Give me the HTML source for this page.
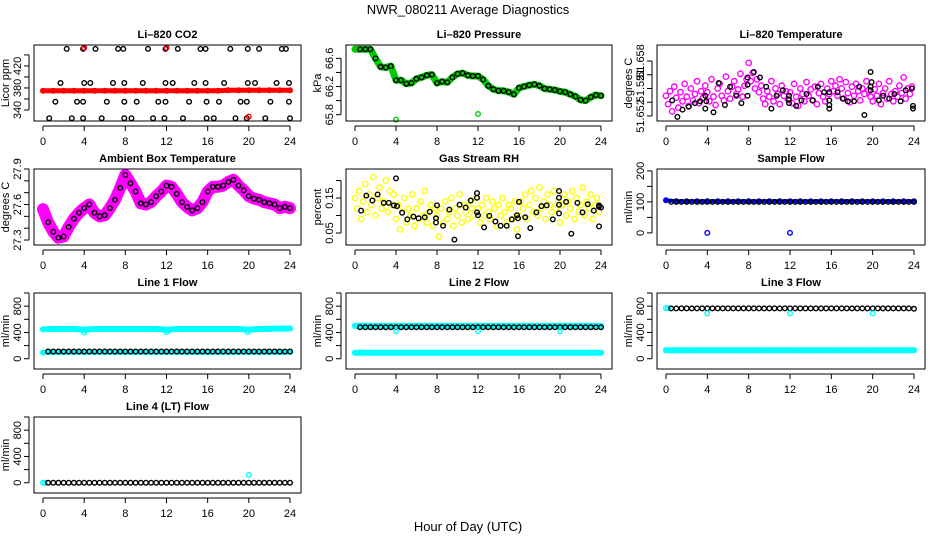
<!DOCTYPE html>
<html><head><meta charset="utf-8"><style>
html,body{margin:0;padding:0;background:#fff;}
svg{display:block;font-family:"Liberation Sans",Arial,sans-serif;}
</style></head><body>
<svg id="chart" width="936" height="540" viewBox="0 0 936 540" xmlns="http://www.w3.org/2000/svg">
<rect width="936" height="540" fill="#fff"/>
<text x="468" y="14" text-anchor="middle" font-size="13">NWR_080211  Average Diagnostics</text>
<text x="468" y="531" text-anchor="middle" font-size="13">Hour of Day (UTC)</text>
</svg>
<script>
// ---------- data ----------
const xTicks = [0,4,8,12,16,20,24];
// Li-820 CO2
const co2BlackHours = [2.3,3.9,5.1,7.3,7.8,10.2,11.9,13.1,15.3,15.8,18.2,19.9,21.0,23.2,23.6, 1.7,4.0,4.6,6.8,7.9,9.7,11.9,12.6,14.7,15.8,17.6,19.9,20.6,22.7,23.9, 1.2,3.3,3.9,6.2,7.9,9.1,11.2,11.9,14.2,15.9,17.1,19.2,19.8,22.1,23.9, 0.6,2.8,3.9,5.7,7.9,8.6,10.7,11.8,13.6,15.9,16.6,18.7,19.8,21.6,24.0];
const co2BlackValues = [451,451,451,451,451,451,451,451,451,451,451,451,451,451,451, 389,389,389,389,389,389,389,389,389,389,389,389,389,389,389, 355,355,355,355,355,355,355,355,355,355,355,355,355,355,355, 325,325,325,325,325,325,325,325,325,325,325,325,325,325,325];
const co2RedHours = [0,1,2,3,4,5,6,7,8,9,10,11,12,13,14,15,16,17,18,19,20,21,22,23,24];
const co2RedValues = [375,375,375,375,375,375,375,375,375,375,375,375,375,375,375,375,375,375,376,376,376,376,376,376,376];
const co2RedOutHours = [4.0,12.0,20.0];
const co2RedOutValues = [453,453,328];
// Li-820 Pressure
const halfHours = [0,0.5,1,1.5,2,2.5,3,3.5,4,4.5,5,5.5,6,6.5,7,7.5,8,8.5,9,9.5,10,10.5,11,11.5,12,12.5,13,13.5,14,14.5,15,15.5,16,16.5,17,17.5,18,18.5,19,19.5,20,20.5,21,21.5,22,22.5,23,23.5,24];
const pressValues = [66.73,66.73,66.73,66.73,66.6,66.48,66.47,66.49,66.29,66.29,66.24,66.25,66.31,66.33,66.36,66.37,66.25,66.27,66.26,66.33,66.38,66.39,66.36,66.35,66.35,66.30,66.21,66.16,66.14,66.14,66.12,66.09,66.18,66.20,66.22,66.23,66.21,66.17,66.16,66.15,66.13,66.12,66.09,66.06,66.01,66.00,66.05,66.08,66.07];
const pressOutHours = [4.0,12.0];
const pressOutValues = [65.73,65.81];
// Li-820 Temperature
const tempMagValues = [51.6542,51.6533,51.6547,51.6525,51.6552,51.6540,51.6529,51.6546,51.6536,51.6555,51.6541,51.6531,51.6550,51.6537,51.6544,51.6558,51.6534,51.6547,51.6540,51.6553,
51.6546,51.6536,51.6560,51.6541,51.6532,51.6550,51.6555,51.6542,51.6537,51.6563,51.6547,51.6539,51.6552,51.6558,51.6544,51.6549,51.6566,51.6541,51.6553,51.6560,
51.6578,51.6558,51.6567,51.6550,51.6560,51.6546,51.6553,51.6539,51.6533,51.6547,51.6541,51.6558,51.6536,51.6550,51.6544,51.6533,51.6553,51.6542,51.6547,51.6538,
51.6546,51.6534,51.6555,51.6541,51.6531,51.6550,51.6544,51.6536,51.6557,51.6542,51.6549,51.6537,51.6552,51.6533,51.6545,51.6555,51.6541,51.6536,51.6550,51.6544,
51.6558,51.6547,51.6553,51.6542,51.6560,51.6550,51.6539,51.6557,51.6545,51.6535,51.6552,51.6542,51.6555,51.6547,51.6537,51.6550,51.6544,51.6558,51.6548,51.6541,
51.6536,51.6549,51.6542,51.6555,51.6533,51.6545,51.6550,51.6539,51.6558,51.6544,51.6536,51.6547,51.6541,51.6553,51.6545,51.6562,51.6539,51.6550,51.6544,51.6552];
const tempBlackHours = [0.6,1.1,1.6,2.2,2.8,3.3,3.8,3.9,3.8,4.6,5.1,5.7,6.2,6.8,7.3,7.9,7.9,7.9,8.5,9.1,9.7,10.2,10.7,11.3,11.9,11.9,11.9,12.6,13.1,13.6,14.2,14.7,15.3,15.8,15.8,15.8,15.8,16.6,17.1,17.6,18.2,18.7,19.2,19.8,19.9,19.8,19.8,20.6,21.0,21.6,22.1,22.7,23.2,23.8,23.9,23.9];
const tempBlackValues = [51.6537,51.6519,51.6527,51.6530,51.6534,51.6536,51.6542,51.6536,51.6528,51.6524,51.6556,51.6532,51.6552,51.6542,51.6534,51.6562,51.6554,51.6542,51.6568,51.6562,51.6552,51.6528,51.6542,51.6548,51.6542,51.6538,51.6534,51.6531,51.6537,51.6544,51.6537,51.6552,51.6546,51.6546,51.6537,51.6532,51.6528,51.6546,51.6539,51.6536,51.6536,51.6552,51.6521,51.6568,51.6557,51.6552,51.6548,51.6537,51.6542,51.6539,51.6544,51.6536,51.6548,51.6550,51.6531,51.6528];
// Ambient Box Temperature
const ambValues = [27.56,27.45,27.37,27.32,27.33,27.41,27.48,27.53,27.57,27.60,27.53,27.50,27.51,27.57,27.64,27.74,27.85,27.78,27.71,27.61,27.60,27.62,27.67,27.71,27.76,27.75,27.69,27.62,27.58,27.55,27.57,27.62,27.71,27.75,27.75,27.76,27.79,27.81,27.76,27.72,27.67,27.65,27.64,27.62,27.61,27.60,27.57,27.58,27.57];
// Gas Stream RH
const rhYellowValues = [.15,.12,.17,.09,.14,.19,.11,.16,.13,.21,.10,.15,.18,.12,.14,.20,.11,.17,.13,.16,
.09,.13,.06,.11,.15,.08,.12,.10,.16,.07,.12,.09,.14,.10,.17,.08,.11,.13,.07,.12,
.10,.04,.12,.08,.14,.09,.11,.15,.07,.12,.10,.16,.08,.13,.11,.09,.14,.12,.10,.15,
.12,.08,.13,.10,.15,.11,.09,.14,.12,.07,.13,.10,.15,.11,.08,.13,.12,.09,.14,.06,
.10,.14,.12,.16,.09,.13,.17,.11,.15,.10,.18,.12,.14,.09,.16,.13,.11,.17,.12,.14,
.08,.13,.16,.10,.14,.12,.17,.09,.15,.11,.13,.18,.10,.14,.12,.16,.09,.13,.15,.11];
const rhBlackHours = [0.6,1.1,1.7,2.2,2.8,3.3,3.8,4.0,4.1,4.6,5.1,5.7,6.2,6.8,7.3,7.9,7.9,8.0,8.6,9.2,9.7,10.2,10.8,11.3,11.9,11.9,11.9,12.0,12.6,13.1,13.7,14.2,14.8,15.3,15.8,15.9,15.9,16.0,16.6,17.1,17.7,18.2,18.7,19.3,19.9,19.9,19.9,19.9,20.6,21.1,21.7,22.2,22.7,23.3,23.8,23.8,23.8,24.0];
const rhBlackValues = [.114,.157,.143,.160,.136,.136,.129,.206,.127,.108,.089,.097,.092,.095,.111,.092,.080,.129,.071,.117,.031,.131,.123,.143,.151,.164,.109,.101,.066,.099,.083,.071,.071,.089,.101,.092,.041,.139,.095,.064,.109,.127,.129,.089,.106,.151,.170,.131,.139,.048,.136,.109,.132,.114,.129,.125,.069,.123];
// Flows (hourly band values)
const hourly = [0,1,2,3,4,5,6,7,8,9,10,11,12,13,14,15,16,17,18,19,20,21,22,23,24];
const blackHalfHours = [0.5,1,1.5,2,2.5,3,3.5,4,4.5,5,5.5,6,6.5,7,7.5,8,8.5,9,9.5,10,10.5,11,11.5,12,12.5,13,13.5,14,14.5,15,15.5,16,16.5,17,17.5,18,18.5,19,19.5,20,20.5,21,21.5,22,22.5,23,23.5,24];
const sampleBlue = [105,102,102,102,102,102,102,102,102,102,102,102,102,102,102,102,102,102,102,102,102,102,102,102,102];
const sampleBlack = [100,100,100,100,100,100,100,100,100,100,100,100,100,100,100,100,100,100,100,100,100,100,100,100,100,100,100,100,100,100,100,100,100,100,100,100,100,100,100,100,100,100,100,100,100,100,100,100];
const sampleOutHours = [4.0,12.0];
const sampleOutValues = [0,0];
const l1CyanTop = [450,452,452,452,440,452,452,452,452,452,452,452,440,452,452,452,452,452,452,452,440,452,455,458,460];
const l1CyanLow = [95,100,100,100,100,100,100,100,100,100,100,100,100,100,100,100,100,100,100,100,100,100,100,100,100];
const l1Black = [110,110,110,110,110,110,110,110,110,110,110,110,110,110,110,110,110,110,110,110,110,110,110,110,110,110,110,110,110,110,110,110,110,110,110,110,110,110,110,110,110,110,110,110,110,110,110,110];
const l1DipHours = [4.0,12.0,19.9];
const l1DipValues = [400,405,405];
const l2CyanTop = [500,500,500,500,500,500,500,500,500,500,500,500,500,500,500,500,500,500,500,500,500,500,500,500,500];
const l2CyanLow = [90,90,90,90,90,90,90,90,90,90,90,90,90,90,90,90,90,90,90,90,90,90,90,90,90];
const l2Black = [480,480,480,480,480,480,480,480,480,480,480,480,480,480,480,480,480,480,480,480,480,480,480,480,480,480,480,480,480,480,480,480,480,480,480,480,480,480,480,480,480,480,480,480,480,480,480,480];
const l2DipHours = [4.0,12.0,20.0];
const l2DipValues = [420,420,420];
const l3CyanLow = [130,130,130,130,130,130,130,130,130,130,130,130,130,130,130,130,130,130,130,130,130,130,130,130,130];
const l3CyanTopHours = [0,0.2];
const l3CyanTopValues = [770,770];
const l3Black = [765,765,765,765,765,765,765,765,765,765,765,765,765,765,765,765,765,765,765,765,765,765,765,765,765,765,765,765,765,765,765,765,765,765,765,765,765,765,765,765,765,765,765,765,765,765,765,760];
const l3DipHours = [4.0,12.0,20.0];
const l3DipValues = [690,690,690];
const l4CyanHours = [0,0.2];
const l4CyanValues = [0,0];
const l4Black = [0,0,0,0,0,0,0,0,0,0,0,0,0,0,0,0,0,0,0,0,0,0,0,0,0,0,0,0,0,0,0,0,0,0,0,0,0,0,0,0,0,0,0,0,0,0,0,0];
const l4OutHours = [20.0];
const l4OutValues = [120];

// ---------- layout ----------
const svg = document.getElementById('chart');
const NS = 'http://www.w3.org/2000/svg';
const colL = [34,346,657], colR = [301,612,925];
const rowT = [45,169,293,417], PH = 76;
const hourSteps = (n, step) => { const a=[]; for(let i=0;i<n;i++) a.push(i*step); return a; };
const fifthHours = hourSteps(120, 0.2);

function mk(tag, attrs, parent){ const e=document.createElementNS(NS,tag); for(const k in attrs) e.setAttribute(k,attrs[k]); (parent||svg).appendChild(e); return e; }

const flowTicks = [0,200,400,600,800,1000];
const flowLabels = {0:'0',400:'400',800:'800'};
const panels = [
 {id:'co2',c:0,r:0,title:'Li\u2013820 CO2',ylab:'Licor ppm',dom:[320,458],ticks:[340,360,380,400,420,440],labels:{340:'340',380:'380',420:'420'},
  series:[{h:co2RedHours,v:co2RedValues,col:'#ff0000',band:5},{h:co2BlackHours,v:co2BlackValues,col:'#000'},{h:co2RedOutHours,v:co2RedOutValues,col:'#ff0000'}]},
 {id:'pressure',c:1,r:0,title:'Li\u2013820 Pressure',ylab:'kPa',dom:[65.71,66.79],ticks:[65.8,66.0,66.2,66.4,66.6],labels:{65.8:'65.8',66.2:'66.2',66.6:'66.6'},
  series:[{h:halfHours,v:pressValues,col:'#00cc00',band:7},{h:halfHours,v:pressValues,col:'#000',skip0:true},{h:pressOutHours,v:pressOutValues,col:'#00cc00'}]},
 {id:'li820-temp',c:2,r:0,title:'Li\u2013820 Temperature',ylab:'degrees C',dom:[51.65145,51.65975],ticks:[51.652,51.6535,51.655,51.6565,51.658],labels:{51.652:'51.652',51.655:'51.52',51.6565:'51',51.658:'51.658'},
  series:[{h:fifthHours,v:tempMagValues,col:'#ff00ff',r:2.7},{h:tempBlackHours,v:tempBlackValues,col:'#000'}]},
 {id:'ambient-temp',c:0,r:1,title:'Ambient Box Temperature',ylab:'degrees C',dom:[27.258,27.9],ticks:[27.3,27.4,27.5,27.6,27.7,27.8,27.9],labels:{27.3:'27.3',27.6:'27.6',27.9:'27.9'},
  series:[{h:halfHours,v:ambValues,col:'#ff00ff',band:12},{h:halfHours,v:ambValues,col:'#000',skip0:true}]},
 {id:'gas-rh',c:1,r:1,title:'Gas Stream RH',ylab:'percent',dom:[0.0157,0.233],ticks:[0.05,0.1,0.15,0.2],labels:{0.05:'0.05',0.15:'0.15'},
  series:[{h:fifthHours,v:rhYellowValues,col:'#ffff00',r:2.7},{h:rhBlackHours,v:rhBlackValues,col:'#000'}]},
 {id:'sample-flow',c:2,r:1,title:'Sample Flow',ylab:'ml/min',dom:[-39,206],ticks:[0,50,100,150,200],labels:{0:'0',100:'100',200:'200'},
  series:[{h:hourly,v:sampleBlue,col:'#0000ff',band:4},{h:blackHalfHours,v:sampleBlack,col:'#000'},{h:sampleOutHours,v:sampleOutValues,col:'#0000ff'}]},
 {id:'line1-flow',c:0,r:2,title:'Line 1 Flow',ylab:'ml/min',dom:[-156,1000],ticks:flowTicks,labels:flowLabels,
  series:[{h:hourly,v:l1CyanTop,col:'#00ffff',band:6},{h:hourly,v:l1CyanLow,col:'#00ffff',band:5},{h:blackHalfHours,v:l1Black,col:'#000'},{h:l1DipHours,v:l1DipValues,col:'#00ffff'}]},
 {id:'line2-flow',c:1,r:2,title:'Line 2 Flow',ylab:'ml/min',dom:[-156,1000],ticks:flowTicks,labels:flowLabels,
  series:[{h:hourly,v:l2CyanTop,col:'#00ffff',band:6},{h:hourly,v:l2CyanLow,col:'#00ffff',band:6},{h:blackHalfHours,v:l2Black,col:'#000'},{h:l2DipHours,v:l2DipValues,col:'#00ffff'}]},
 {id:'line3-flow',c:2,r:2,title:'Line 3 Flow',ylab:'ml/min',dom:[-156,1000],ticks:flowTicks,labels:flowLabels,
  series:[{h:l3CyanTopHours,v:l3CyanTopValues,col:'#00ffff'},{h:hourly,v:l3CyanLow,col:'#00ffff',band:6},{h:blackHalfHours,v:l3Black,col:'#000'},{h:l3DipHours,v:l3DipValues,col:'#00ffff'}]},
 {id:'line4-flow',c:0,r:3,title:'Line 4 (LT) Flow',ylab:'ml/min',dom:[-156,1000],ticks:flowTicks,labels:flowLabels,
  series:[{h:l4CyanHours,v:l4CyanValues,col:'#00ffff'},{h:blackHalfHours,v:l4Black,col:'#000'},{h:l4OutHours,v:l4OutValues,col:'#00ffff'}]}
];

panels.forEach(p => {
  const L=colL[p.c], R=colR[p.c], T=rowT[p.r], B=T+PH;
  const x0=L+9, x24=R-11;
  const xs = h => x0 + h/24*(x24-x0);
  const ys = v => B - (v-p.dom[0])/(p.dom[1]-p.dom[0])*PH;
  const g = mk('g',{});
  
  
  const t = mk('text',{x:(L+R)/2,y:T-7,'text-anchor':'middle','font-size':11,'font-weight':'bold'},g);
  t.textContent = p.title;
  
  
  const plot = mk('g',{},g);
  
  
  p.series.forEach((s,si) => {
    const sg = mk('g',{},plot);
    
    
    if (s.band) {
      const pts = s.h.map((h,i)=>xs(h).toFixed(1)+','+ys(s.v[i]).toFixed(1)).join(' ');
      const pl = mk('polyline',{points:pts,fill:'none',stroke:s.col,'stroke-width':s.band,'stroke-linejoin':'round','stroke-linecap':'round'},sg);
      
      
    }
    s.h.forEach((h,i) => {
      if (s.skip0 && i===0) return;
      const c = mk('circle',{cx:xs(h).toFixed(1),cy:ys(s.v[i]).toFixed(1),r:s.r||2.3,fill:'none',stroke:s.col,'stroke-width':1.4},sg);
      
      
    });
  });
  const box = mk('rect',{x:L,y:T,width:R-L,height:PH,fill:'none',stroke:'#000','stroke-width':1},g);
  
  
  const xa = mk('g',{stroke:'#000','stroke-width':1},g);
  
  
  mk('line',{x1:xs(0),x2:xs(24),y1:B+5,y2:B+5},xa);
  xTicks.forEach(tv => {
    mk('line',{x1:xs(tv),x2:xs(tv),y1:B+5,y2:B+10},xa);
    const tl = mk('text',{x:xs(tv),y:B+24,'text-anchor':'middle','font-size':11,stroke:'none',fill:'#000'},g);
    tl.textContent = tv;
    
    
  });
  const ya = mk('g',{stroke:'#000','stroke-width':1},g);
  
  
  const tk = p.ticks;
  mk('line',{x1:L-5,x2:L-5,y1:ys(tk[0]),y2:ys(tk[tk.length-1])},ya);
  tk.forEach(tv => {
    mk('line',{x1:L-10,x2:L-5,y1:ys(tv),y2:ys(tv)},ya);
    if (p.labels[tv] !== undefined) {
      const yy = ys(tv), xx = L-13;
      const tl = mk('text',{x:xx,y:yy,'text-anchor':'middle','font-size':11,transform:`rotate(-90 ${xx} ${yy})`},g);
      tl.textContent = p.labels[tv];
      
      
    }
  });
  const yx = L-25, yy=(T+B)/2;
  const yt = mk('text',{x:yx,y:yy,'text-anchor':'middle','font-size':11,transform:`rotate(-90 ${yx} ${yy})`},g);
  yt.textContent = p.ylab;
  
  
});
</script>
</body></html>
